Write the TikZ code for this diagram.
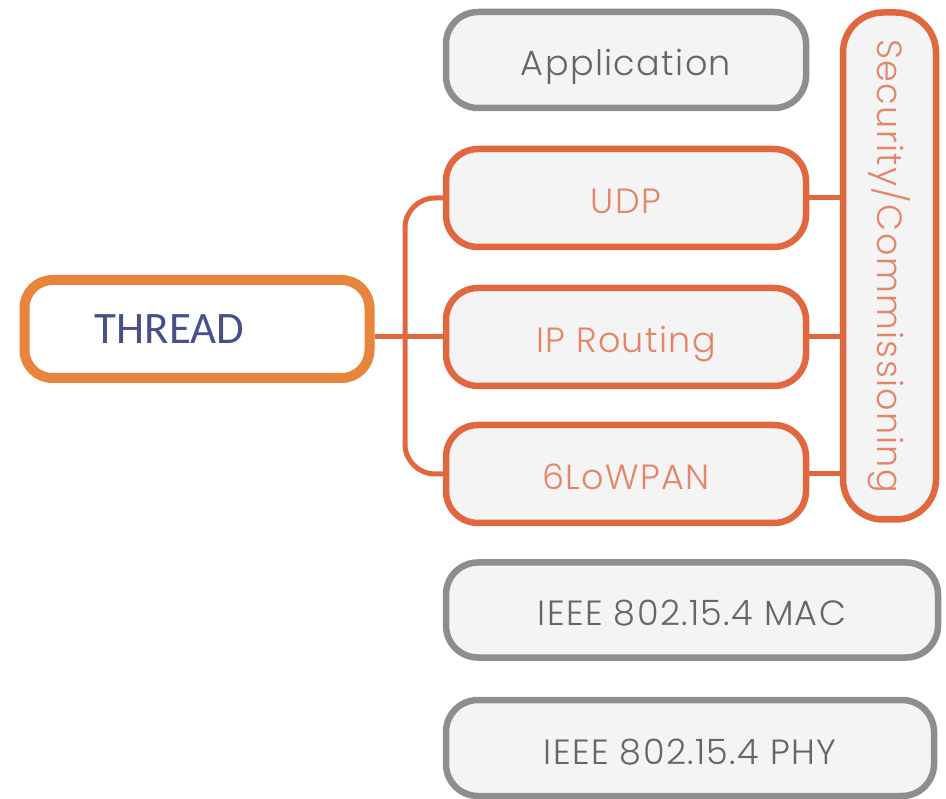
\documentclass[tikz,border=0pt]{standalone}
\usepackage{fontspec}
\setmainfont{Poppins}
\newfontfamily\boxfont{Poppins}[UprightFont=* Light, LetterSpace=4]
\newfontfamily\threadfont{Carlito}
\definecolor{orstroke}{HTML}{E1673F}
\definecolor{ortext}{HTML}{E4856A}
\definecolor{grstroke}{HTML}{8E8E8E}
\definecolor{grtext}{HTML}{666666}
\definecolor{boxfill}{HTML}{F4F4F4}
\definecolor{thstroke}{HTML}{E8843C}
\definecolor{thtext}{HTML}{48508C}
\tikzset{
  layer/.style={rectangle, rounded corners=32pt, line width=6.5pt, fill=boxfill,
    inner sep=0pt, text height=32pt, text depth=0pt,
    font=\boxfont\fontsize{35}{40}\selectfont},
  graylayer/.style={layer, draw=grstroke, text=grtext},
  orlayer/.style={layer, draw=orstroke, text=ortext},
  link/.style={draw=orstroke, line width=5pt},
}
\begin{document}
\begin{tikzpicture}[x=1pt,y=-1pt]
\useasboundingbox[fill=white] (0,0) rectangle (946,799);
\node[graylayer, minimum width=360pt, minimum height=96pt] (app) at (626,60) {Application};
\node[orlayer, minimum width=360pt, minimum height=98pt] (udp) at (626,198) {UDP};
\node[orlayer, minimum width=360pt, minimum height=98pt] (ip) at (626,337) {IP Routing};
\node[orlayer, minimum width=360pt, minimum height=98pt] (lowpan) at (626,474) {6LoWPAN};
\node[orlayer, minimum width=93pt, minimum height=507pt, rounded corners=40pt,
  text height=, text depth=] (sec) at (889.5,266)
  {\rotatebox{-90}{Security/Commissioning}};
\node[graylayer, minimum width=492pt, minimum height=95pt] (mac) at (692,610) {IEEE 802.15.4 MAC};
\node[graylayer, minimum width=488pt, minimum height=96pt] (phy) at (690,748) {IEEE 802.15.4 PHY};
\node[rectangle, rounded corners=28pt, line width=10pt, draw=thstroke, fill=white,
  minimum width=345pt, minimum height=98pt, text=thtext,
  font=\threadfont\fontsize{45}{50}\selectfont] (thread) at (197,329) {\hspace*{-55pt}THREAD};
\coordinate (bus) at (405,337);
\draw[link] (ip.west) -- (ip.west -| thread.east);
\draw[link, rounded corners=30pt] (udp.west) -| (bus) |- (lowpan.west);
\draw[link] (udp.east) -- (udp.east -| sec.west);
\draw[link] (ip.east) -- (ip.east -| sec.west);
\draw[link] (lowpan.east) -- (lowpan.east -| sec.west);
\end{tikzpicture}
\end{document}
